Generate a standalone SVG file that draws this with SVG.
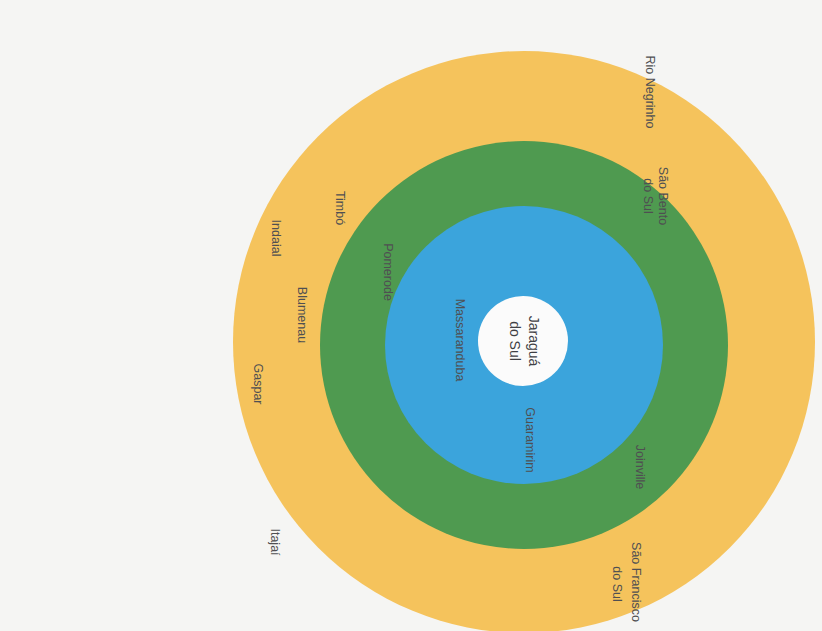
<svg xmlns="http://www.w3.org/2000/svg" width="822" height="631" viewBox="0 0 822 631">
<style>
.lbl{font-family:"Liberation Sans",Arial,sans-serif;font-size:12.5px;fill:#4f4f52;text-anchor:middle;dominant-baseline:central}
.big{font-size:14px;fill:#3f3f44}
</style>
<rect width="822" height="631" fill="#f5f5f3"/>
<g id="ring-outer"><circle cx="524" cy="342" r="291" fill="#f5c35c"/></g>
<g id="ring-middle"><circle cx="524" cy="345" r="204" fill="#4f9a50"/></g>
<g id="ring-inner"><circle cx="524" cy="345" r="139" fill="#3ba4dc"/></g>
<g id="center"><circle cx="523" cy="341" r="45" fill="#fbfbfb"/>
<text class="lbl big" transform="translate(534,341) rotate(90)">Jaraguá</text>
<text class="lbl big" transform="translate(515,341) rotate(90)">do Sul</text></g>
<g id="outer-labels">
<text class="lbl" transform="translate(650,92) rotate(90)">Rio Negrinho</text>
<text class="lbl" transform="translate(663,196) rotate(90)">São Bento</text>
<text class="lbl" transform="translate(648,196) rotate(90)">do Sul</text>
<text class="lbl" transform="translate(340,208) rotate(90)">Timbó</text>
<text class="lbl" transform="translate(276,238) rotate(90)">Indaial</text>
<text class="lbl" transform="translate(302,315) rotate(90)">Blumenau</text>
<text class="lbl" transform="translate(258,384) rotate(90)">Gaspar</text>
<text class="lbl" transform="translate(275,542) rotate(90)">Itajaí</text>
<text class="lbl" transform="translate(636,582) rotate(90)">São Francisco</text>
<text class="lbl" transform="translate(617,584) rotate(90)">do Sul</text>
</g>
<g id="middle-labels">
<text class="lbl" transform="translate(388,272) rotate(90)">Pomerode</text>
<text class="lbl" transform="translate(640,467) rotate(90)">Joinville</text>
</g>
<g id="inner-labels">
<text class="lbl" transform="translate(460,340) rotate(90)">Massaranduba</text>
<text class="lbl" transform="translate(530,440) rotate(90)">Guaramirim</text>
</g>
</svg>
